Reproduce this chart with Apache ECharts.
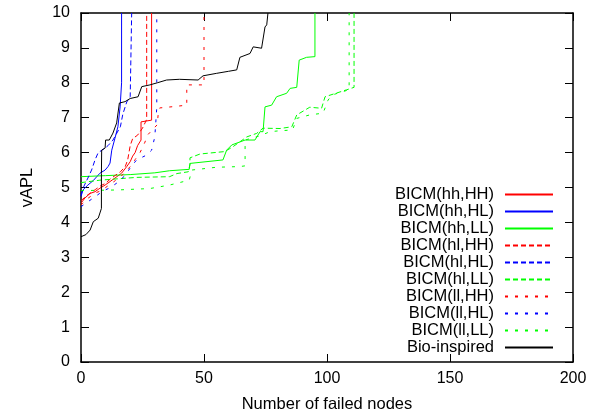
<!DOCTYPE html>
<html><head><meta charset="utf-8">
<script src="https://cdn.jsdelivr.net/npm/echarts@6/dist/echarts.min.js"></script>
<style>html,body{margin:0;padding:0;background:#fff}#c{width:597px;height:419px}</style>
</head><body><div id="c"></div>
<script>
const seriesNames = ['BICM(hh,HH)','BICM(hh,HL)','BICM(hh,LL)','BICM(hl,HH)','BICM(hl,HL)','BICM(hl,LL)','BICM(ll,HH)','BICM(ll,HL)','BICM(ll,LL)','Bio-inspired'];
const xTicks = [0,50,100,150,200];
const yTicks = [0,1,2,3,4,5,6,7,8,9,10];

const hhHH = [[0,4.55],[1.6,4.7],[3.7,4.83],[5.7,4.88],[7.7,4.98],[9.8,5.07],[11.8,5.17],[13.8,5.27],[16.5,5.41],[18.6,5.6],[20,5.74],[21,5.9],[22,6.0],[23,6.2],[24.4,6.36],[24.4,6.88],[28.7,6.93],[28.7,10]];
const hhHL = [[0,4.74],[0.8,4.93],[2.8,5.07],[5,5.2],[7.7,5.41],[9.8,5.5],[11,5.6],[11.8,5.7],[12.5,6.07],[13.8,6.41],[15,6.74],[15.9,7.31],[16.5,8],[16.5,10]];
const hhLL = [[0,5.31],[10,5.34],[20,5.37],[30,5.42],[36,5.48],[44,5.52],[44.3,5.69],[57.7,5.79],[59.2,6.07],[61.3,6.22],[66.7,6.36],[70.7,6.36],[72.8,6.6],[74,6.6],[74.8,7.31],[77.5,7.36],[79.5,7.6],[83.6,7.7],[85,7.84],[87.7,7.87],[88.7,8.65],[91.7,8.73],[95.1,8.75],[95.1,10]];
const hlHH = [[0,4.62],[2,4.75],[4,4.85],[6,4.95],[8,5.05],[10,5.12],[12,5.25],[14,5.35],[16,5.45],[18,5.6],[19,5.8],[20,6.2],[21,6.4],[23,6.5],[25,6.7],[26.7,6.95],[26.7,10]];
const hlHL = [[0,4.78],[0.8,4.98],[2.8,5.27],[4.3,5.5],[5.7,5.79],[7,6.0],[9.8,6.13],[11,6.2],[13,6.36],[16,6.74],[17,7.1],[18.6,7.45],[20,7.6],[20.6,7.65],[20.6,10]];
const hlLL = [[0,5.14],[7.7,5.21],[22.6,5.29],[36,5.31],[39,5.4],[43.6,5.45],[44.3,5.66],[44.3,5.85],[48.4,5.96],[58.5,6.03],[61.8,6.17],[67.4,6.45],[71.4,6.55],[74,6.7],[80.9,6.69],[85.7,6.74],[87.7,7.08],[93,7.3],[97.8,7.27],[99.2,7.6],[108,7.8],[111,7.87],[111,10]];
const llHH = [[0,4.5],[2,4.65],[4,4.75],[6,4.85],[8,4.9],[10,5.0],[12,5.1],[14,5.2],[16,5.3],[18,5.45],[20,5.6],[22,5.8],[24,6.0],[26,6.3],[27,6.5],[29,6.65],[31,6.8],[31.5,7.2],[32,7.28],[38,7.32],[43,7.36],[43,7.94],[50,7.94],[50,10]];
const llHL = [[0,4.45],[3,4.6],[6,4.75],[9,4.9],[12,5.0],[15,5.15],[18,5.35],[20,5.56],[22.6,5.79],[26.7,5.93],[28.7,6.07],[30,6.45],[30.8,7.28],[30.8,10]];
const llLL = [[0,4.91],[15,4.93],[28,4.97],[36,5.07],[44,5.21],[45,5.5],[55,5.58],[64.6,5.6],[66.7,5.62],[66.7,6.36],[72.8,6.48],[76.8,6.6],[80,6.62],[86,6.65],[87.7,6.98],[93,7.08],[98.4,7.13],[100.4,7.5],[102,7.65],[108,7.78],[109,7.8],[109,10]];
const bio = [[0,3.59],[2,3.65],[3.7,3.78],[5,4.02],[7,4.12],[7.7,4.27],[8.3,4.4],[8.3,5.4],[8.4,6.07],[9.8,6.13],[10,6.36],[11.5,6.36],[13,6.56],[14.5,6.85],[15.6,7.42],[17.9,7.46],[20,7.55],[23.2,7.6],[24.7,7.89],[28,7.94],[31,8.0],[34.8,8.08],[40,8.1],[47.6,8.08],[49.6,8.2],[55,8.27],[60,8.33],[63.3,8.37],[64.6,8.73],[68.7,8.84],[70,9.03],[73.4,8.99],[74.8,9.6],[75.5,9.66],[76,10]];

const seriesData = [hhHH,hhHL,hhLL,hlHH,hlHL,hlLL,llHH,llHL,llLL,bio];
const colors = ['#ff0000','#0000ff','#00ff00','#ff0000','#0000ff','#00ff00','#ff0000','#0000ff','#00ff00','#000000'];
const dashes = ['solid','solid','solid',[5,3],[5,3],[5,3],[3,7],[3,7],[3,7],'solid'];

const font = 'Liberation Sans, Arial, Helvetica, sans-serif';
const chart = echarts.init(document.getElementById('c'), null, {renderer:'canvas'});
const tickStyle = {show:true, inside:true, length:8, lineStyle:{color:'#000', width:1}};
chart.setOption({
  animation:false,
  backgroundColor:'#fff',
  grid:{left:81, right:24, top:13, bottom:57},
  legend:{
    orient:'vertical', right:43, top:186, padding:0, align:'right',
    itemWidth:48, itemHeight:11, itemGap:0,
    itemStyle:{opacity:0},
    textStyle:{fontFamily:font, fontSize:16.5, color:'#000', padding:[0,6,0,0], lineHeight:17},
    data:seriesNames
  },
  xAxis:[
    {type:'value', min:0, max:200, interval:50, position:'bottom',
     name:'Number of failed nodes', nameLocation:'middle', nameGap:34,
     nameTextStyle:{fontFamily:font, fontSize:16.5, color:'#000'},
     axisLine:{show:true, lineStyle:{color:'#000', width:1.5}},
     axisTick:tickStyle, splitLine:{show:false},
     axisLabel:{fontFamily:font, fontSize:16, color:'#000', margin:9}},
    {type:'value', min:0, max:200, interval:50, position:'top',
     axisLine:{show:true, onZero:false, lineStyle:{color:'#000', width:1.5}},
     axisTick:tickStyle, splitLine:{show:false}, axisLabel:{show:false}}
  ],
  yAxis:[
    {type:'value', min:0, max:10, interval:1, position:'left',
     name:'vAPL', nameLocation:'middle', nameGap:45, nameRotate:90,
     nameTextStyle:{fontFamily:font, fontSize:16.5, color:'#000'},
     axisLine:{show:true, lineStyle:{color:'#000', width:1.5}},
     axisTick:tickStyle, splitLine:{show:false},
     axisLabel:{fontFamily:font, fontSize:16, color:'#000', margin:11}},
    {type:'value', min:0, max:10, interval:1, position:'right',
     axisLine:{show:true, onZero:false, lineStyle:{color:'#000', width:1.5}},
     axisTick:tickStyle, splitLine:{show:false}, axisLabel:{show:false}}
  ],
  series: seriesNames.map((n,i)=>({
    name:n, type:'line', data:seriesData[i], symbol:'none', clip:true,
    xAxisIndex:0, yAxisIndex:0,
    itemStyle:{color:colors[i]},
    lineStyle:{color:colors[i], width:1, type:dashes[i]}
  }))
});
</script></body></html>
